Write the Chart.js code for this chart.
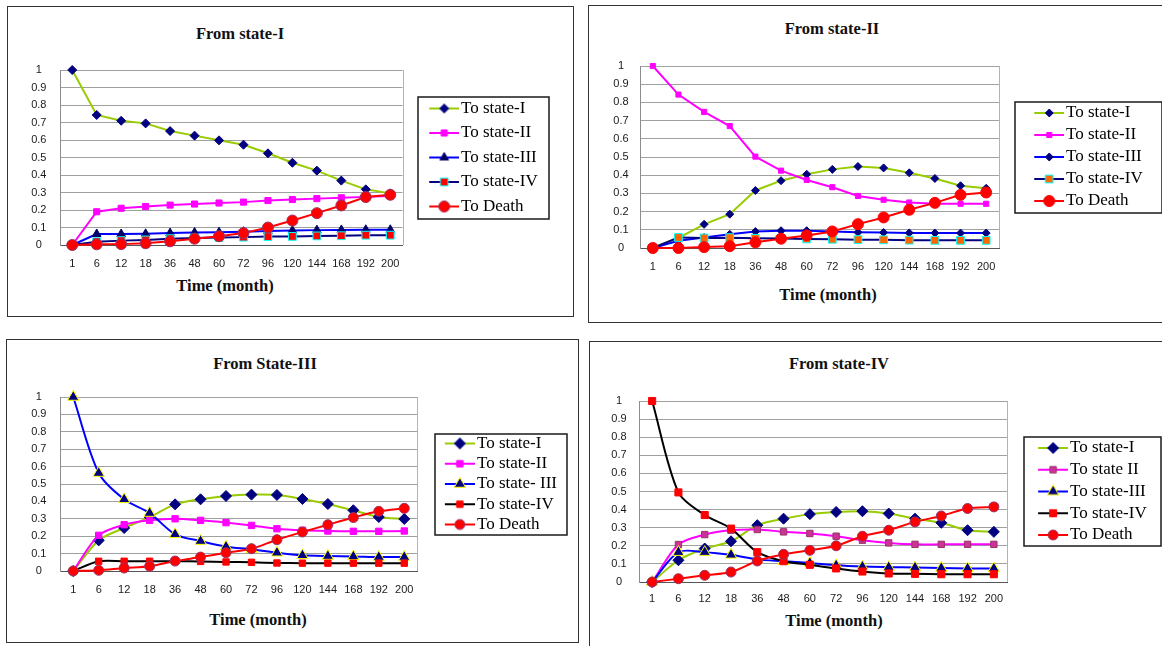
<!DOCTYPE html>
<html>
<head>
<meta charset="utf-8">
<script src="https://cdn.jsdelivr.net/npm/chart.js@4.4.1/dist/chart.umd.min.js"></script>
<style>
  body { margin: 0; background: #fff; width: 1162px; height: 646px; overflow: hidden; position: relative; }
  .frame { position: absolute; border: 1px solid #333; box-sizing: border-box; }
  .ttl { position: absolute; transform: translate(-50%, -50%); white-space: nowrap; color: #111;
         font: bold 16.5px "Liberation Serif", serif; }
  canvas { position: absolute; }
</style>
</head>
<body>
<div class="frame" style="left:7px;top:6px;width:567px;height:311px"></div>
<div class="frame" style="left:588px;top:5px;width:620px;height:318px"></div>
<div class="frame" style="left:6px;top:339px;width:573px;height:304px"></div>
<div class="frame" style="left:589px;top:341px;width:620px;height:320px"></div>

<script>
// --- x categories (months) and y tick labels ---
const months = ['1', '6', '12', '18', '36', '48', '60', '72', '96', '120', '144', '168', '192', '200'];
const yTickLabels = ['0', '0.1', '0.2', '0.3', '0.4', '0.5', '0.6', '0.7', '0.8', '0.9', '1'];

// From state-I
const s1ToI   = [1, 0.743, 0.71, 0.695, 0.651, 0.625, 0.598, 0.573, 0.524, 0.47, 0.425, 0.368, 0.318, 0.295];
const s1ToII  = [0, 0.19, 0.21, 0.22, 0.228, 0.234, 0.24, 0.245, 0.254, 0.26, 0.265, 0.27, 0.275, 0.28];
const s1ToIII = [0, 0.063, 0.063, 0.064, 0.068, 0.071, 0.073, 0.076, 0.08, 0.083, 0.085, 0.086, 0.087, 0.087];
const s1ToIV  = [0, 0.019, 0.025, 0.029, 0.036, 0.04, 0.043, 0.045, 0.048, 0.049, 0.052, 0.053, 0.056, 0.056];
const s1ToD   = [0, 0.004, 0.005, 0.01, 0.021, 0.036, 0.05, 0.068, 0.1, 0.14, 0.182, 0.226, 0.274, 0.287];

// From state-II
const s2ToI   = [0, 0.055, 0.13, 0.186, 0.316, 0.37, 0.405, 0.432, 0.448, 0.44, 0.413, 0.382, 0.342, 0.328];
const s2ToII  = [1, 0.843, 0.748, 0.67, 0.502, 0.425, 0.374, 0.334, 0.286, 0.265, 0.25, 0.243, 0.243, 0.243];
const s2ToIII = [0, 0.04, 0.058, 0.075, 0.09, 0.095, 0.095, 0.09, 0.086, 0.085, 0.083, 0.082, 0.082, 0.082];
const s2ToIV  = [0, 0.058, 0.055, 0.057, 0.053, 0.052, 0.05, 0.048, 0.046, 0.045, 0.043, 0.042, 0.042, 0.042];
const s2ToD   = [0, 0, 0.005, 0.01, 0.031, 0.051, 0.069, 0.091, 0.131, 0.168, 0.21, 0.248, 0.292, 0.305];

// From State-III
const s3ToI   = [0, 0.176, 0.247, 0.31, 0.383, 0.412, 0.431, 0.439, 0.437, 0.414, 0.385, 0.349, 0.31, 0.299];
const s3ToII  = [0, 0.205, 0.266, 0.291, 0.3, 0.291, 0.278, 0.262, 0.243, 0.234, 0.23, 0.228, 0.228, 0.23];
const s3ToIII = [1, 0.563, 0.412, 0.333, 0.211, 0.172, 0.14, 0.125, 0.105, 0.09, 0.086, 0.084, 0.08, 0.08];
const s3ToIV  = [0, 0.056, 0.056, 0.056, 0.056, 0.055, 0.052, 0.05, 0.046, 0.045, 0.045, 0.045, 0.045, 0.045];
const s3ToD   = [0, 0.004, 0.017, 0.027, 0.057, 0.08, 0.105, 0.128, 0.18, 0.224, 0.266, 0.307, 0.343, 0.36];

// From state-IV
const s4ToI   = [0, 0.12, 0.185, 0.225, 0.314, 0.35, 0.375, 0.387, 0.391, 0.378, 0.35, 0.327, 0.286, 0.277];
const s4ToII  = [0, 0.207, 0.262, 0.286, 0.29, 0.277, 0.268, 0.253, 0.231, 0.216, 0.208, 0.208, 0.208, 0.208];
const s4ToIII = [0, 0.165, 0.165, 0.15, 0.125, 0.115, 0.105, 0.092, 0.085, 0.082, 0.08, 0.077, 0.075, 0.075];
const s4ToIV  = [1, 0.495, 0.37, 0.295, 0.165, 0.115, 0.095, 0.075, 0.058, 0.047, 0.045, 0.043, 0.043, 0.043];
const s4ToD   = [0, 0.018, 0.037, 0.055, 0.116, 0.153, 0.175, 0.2, 0.253, 0.286, 0.332, 0.365, 0.406, 0.415];

// --- colours ---
const GREEN = '#99cc00', MAGENTA = '#ff00ff', BLUE = '#0000ff', NAVY = '#000080',
      RED = '#ff0000', BLACK = '#000000', CYAN = '#00ffff', YELLOW = '#ffff00', PLUM = '#993366';

// --- panel layout (page px) + series styles ---
const panels = [
  {
    title: 'From state-I', titlePos: [240, 34], xTitlePos: [225, 286],
    frame: {x: 7, y: 6, w: 567, h: 311},
    plot: {l: 60, r: 402.5, t: 70, b: 245}, yLabelX: 38.8, xTickPad: 12,
    legend: {pad: 7.5, box: 42.5, margin: 11, vm: 12}, tension: 0,
    series: [
      {label: 'To state-I',   data: s1ToI,   line: GREEN,   style: 'rectRot',  r: 4.5, fill: NAVY,    edge: NAVY},
      {label: 'To state-II',  data: s1ToII,  line: MAGENTA, style: 'rect',     r: 4.3, fill: MAGENTA, edge: MAGENTA},
      {label: 'To state-III', data: s1ToIII, line: BLUE,    style: 'triangle', r: 5,   fill: '#000066', edge: '#000066'},
      {label: 'To state-IV',  data: s1ToIV,  line: NAVY,    style: 'rect',     r: 5.5, fill: RED,     edge: CYAN},
      {label: 'To Death',     data: s1ToD,   line: RED,     style: 'circle',   r: 5.5, fill: RED,     edge: PLUM}
    ]
  },
  {
    title: 'From state-II', titlePos: [832, 29], xTitlePos: [828, 295],
    frame: {x: 588, y: 5, w: 620, h: 318},
    plot: {l: 640, r: 999, t: 66, b: 248}, yLabelX: 621, xTickPad: 12,
    legend: {pad: 5, box: 53.5, margin: 19, vm: 11.5}, tension: 0,
    series: [
      {label: 'To state-I',   data: s2ToI,   line: GREEN,   style: 'rectRot', r: 4,   fill: NAVY,      edge: NAVY},
      {label: 'To state-II',  data: s2ToII,  line: MAGENTA, style: 'rect',    r: 3.6, fill: MAGENTA,   edge: MAGENTA},
      {label: 'To state-III', data: s2ToIII, line: BLUE,    style: 'rectRot', r: 4,   fill: NAVY,      edge: NAVY},
      {label: 'To state-IV',  data: s2ToIV,  line: NAVY,    style: 'rect',    r: 5.5, fill: '#ff6600', edge: CYAN},
      {label: 'To Death',     data: s2ToD,   line: RED,     style: 'circle',  r: 5.5, fill: RED,       edge: RED}
    ]
  },
  {
    title: 'From State-III', titlePos: [265, 364], xTitlePos: [258, 620],
    frame: {x: 6, y: 339, w: 573, h: 304},
    plot: {l: 60.5, r: 417, t: 397, b: 571}, yLabelX: 38.8, xTickPad: 12,
    legend: {pad: 3.25, box: 48.25, margin: 10, vm: 10}, tension: 0.3,
    series: [
      {label: 'To state-I',    data: s3ToI,   line: GREEN,   style: 'rectRot',  r: 5.5, fill: NAVY,    edge: NAVY},
      {label: 'To state-II',   data: s3ToII,  line: MAGENTA, style: 'rect',     r: 4.5, fill: MAGENTA, edge: MAGENTA},
      {label: 'To state- III', data: s3ToIII, line: BLUE,    style: 'triangle', r: 6.5, fill: NAVY,    edge: YELLOW},
      {label: 'To state-IV',   data: s3ToIV,  line: BLACK,   style: 'rect',     r: 4.5, fill: RED,     edge: RED},
      {label: 'To Death',      data: s3ToD,   line: RED,     style: 'circle',   r: 5,   fill: RED,     edge: PLUM}
    ]
  },
  {
    title: 'From state-IV', titlePos: [839, 364], xTitlePos: [834, 621],
    frame: {x: 589, y: 341, w: 620, h: 320},
    plot: {l: 639, r: 1007, t: 401, b: 582}, yLabelX: 619, xTickPad: 10,
    legend: {pad: 4.75, box: 49.75, margin: 14, vm: 11}, tension: 0.3,
    series: [
      {label: 'To state-I',   data: s4ToI,   line: GREEN,   style: 'rectRot',  r: 5.5, fill: NAVY,      edge: NAVY},
      {label: 'To state II',  data: s4ToII,  line: MAGENTA, style: 'rect',     r: 4.5, fill: '#cc3399', edge: PLUM},
      {label: 'To state-III', data: s4ToIII, line: BLUE,    style: 'triangle', r: 6.5, fill: NAVY,      edge: YELLOW},
      {label: 'To state-IV',  data: s4ToIV,  line: BLACK,   style: 'rect',     r: 5,   fill: RED,       edge: RED},
      {label: 'To Death',     data: s4ToD,   line: RED,     style: 'circle',   r: 5,   fill: RED,       edge: PLUM}
    ]
  }
];

const LEGEND_FONT = 17;
const TICK_FONT = {family: '"Liberation Sans", Arial, sans-serif', size: 11};

// legend swatch: short line with the marker in its middle (Excel style)
function legendSwatch(s, w) {
  const c = document.createElement('canvas');
  c.width = w; c.height = 20;
  const g = c.getContext('2d');
  g.strokeStyle = s.line; g.lineWidth = 2;
  g.beginPath(); g.moveTo(w - 30, 10); g.lineTo(w, 10); g.stroke();
  g.fillStyle = s.fill; g.strokeStyle = s.edge; g.lineWidth = 1;
  Chart.helpers.drawPoint(g, {pointStyle: s.style, radius: s.r, borderWidth: 1, rotation: 0}, w - 15, 10);
  return c;
}

// light frame line on the right side of the plot area
const plotFrame = {
  id: 'plotFrame',
  beforeDatasetsDraw(chart) {
    const a = chart.chartArea, c = chart.ctx;
    const x = Math.round(a.right) + 0.5;
    c.save();
    c.strokeStyle = '#b4b4b4'; c.lineWidth = 1;
    c.beginPath(); c.moveTo(x, Math.round(a.top)); c.lineTo(x, Math.round(a.bottom)); c.stroke();
    c.restore();
  }
};

// box around the legend items
const legendFrame = {
  id: 'legendFrame',
  afterDraw(chart, args, opts) {
    const hb = chart.legend && chart.legend.legendHitBoxes;
    if (!hb || !hb.length) return;
    const x0 = hb[0].left;
    const lineStart = x0 + opts.box + 6.5 - 30;
    const textEnd = x0 + Math.max(...hb.map(h => h.width));
    const half = LEGEND_FONT / 2;
    const top = hb[0].top + half - opts.vm;
    const bottom = hb[hb.length - 1].top + half + opts.vm;
    const c = chart.ctx;
    c.save();
    c.strokeStyle = '#1a1a1a'; c.lineWidth = 1.5;
    c.strokeRect(Math.round(lineStart - opts.margin), Math.round(top),
                 Math.round(textEnd + opts.margin - (lineStart - opts.margin)), Math.round(bottom - top));
    c.restore();
  }
};

const measure = document.createElement('canvas').getContext('2d');

panels.forEach(p => {
  // titles as page text
  [[p.title, p.titlePos], ['Time (month)', p.xTitlePos]].forEach(([txt, pos]) => {
    const d = document.createElement('div');
    d.className = 'ttl';
    d.textContent = txt;
    d.style.left = pos[0] + 'px';
    d.style.top = pos[1] + 'px';
    document.body.appendChild(d);
  });

  const cl = p.frame.x + 1, ct = p.frame.y + 1, cw = p.frame.w - 2, ch = p.frame.h - 2;
  const canvas = document.createElement('canvas');
  canvas.width = cw; canvas.height = ch;
  canvas.style.left = cl + 'px'; canvas.style.top = ct + 'px';
  document.body.appendChild(canvas);

  // work out layout padding so the plot area lands where it does in the picture
  // (Chart.js reserves the tick padding on both sides of the labels)
  measure.font = LEGEND_FONT + 'px "Liberation Serif", serif';
  const textW = Math.max(...p.series.map(s => measure.measureText(s.label).width));
  measure.font = TICK_FONT.size + 'px ' + TICK_FONT.family;
  const yW = Math.max(...yTickLabels.map(t => measure.measureText(t).width));
  const yPad = p.plot.l - p.yLabelX - yW / 2;
  const L = p.legend;
  const legendW = L.pad + L.box + LEGEND_FONT / 2 + textW + 10;
  const padding = {
    left: p.plot.l - cl - (2 * yPad + yW),
    top: p.plot.t - ct,
    right: cl + cw - p.plot.r - legendW,
    bottom: ct + ch - p.plot.b - (2 * p.xTickPad + TICK_FONT.size * 1.2)
  };

  const swatches = p.series.map(s => legendSwatch(s, Math.round(L.box + 13)));

  new Chart(canvas.getContext('2d'), {
    type: 'line',
    data: {
      labels: months,
      datasets: p.series.map((s, i) => ({
        label: s.label,
        data: s.data,
        borderColor: s.line,
        backgroundColor: s.fill,
        borderWidth: 2,
        tension: p.tension,
        fill: false,
        clip: false,
        order: p.series.length - i,
        pointStyle: s.style,
        pointRadius: s.r,
        pointBackgroundColor: s.fill,
        pointBorderColor: s.edge,
        pointBorderWidth: 1
      }))
    },
    options: {
      responsive: false,
      animation: false,
      devicePixelRatio: 1,
      events: [],
      layout: {padding},
      scales: {
        x: {
          offset: true,
          grid: {display: false, drawTicks: false},
          border: {display: true, color: '#555', width: 1},
          ticks: {padding: p.xTickPad, color: '#1a1a1a', font: TICK_FONT, maxRotation: 0, autoSkip: false}
        },
        y: {
          min: 0, max: 1,
          grid: {color: '#a0a0a0', drawTicks: false},
          border: {display: true, color: '#8c8c8c', width: 1},
          ticks: {
            stepSize: 0.1, padding: yPad, crossAlign: 'center', color: '#1a1a1a', font: TICK_FONT,
            callback: (v, i) => yTickLabels[i]
          }
        }
      },
      plugins: {
        title: {display: false},
        tooltip: {enabled: false},
        legend: {
          position: 'right', fullSize: false, align: 'center', maxWidth: 1000,
          labels: {
            usePointStyle: true, pointStyleWidth: L.box, padding: L.pad, color: '#000',
            font: {family: '"Liberation Serif", "Times New Roman", serif', size: LEGEND_FONT},
            generateLabels: () => p.series.map((s, i) => ({
              text: s.label, pointStyle: swatches[i], datasetIndex: i, hidden: false,
              lineWidth: 0, fillStyle: s.fill, strokeStyle: s.edge
            }))
          }
        },
        legendFrame: {box: L.box, margin: L.margin, vm: L.vm}
      }
    },
    plugins: [plotFrame, legendFrame]
  });
});
</script>
</body>
</html>
